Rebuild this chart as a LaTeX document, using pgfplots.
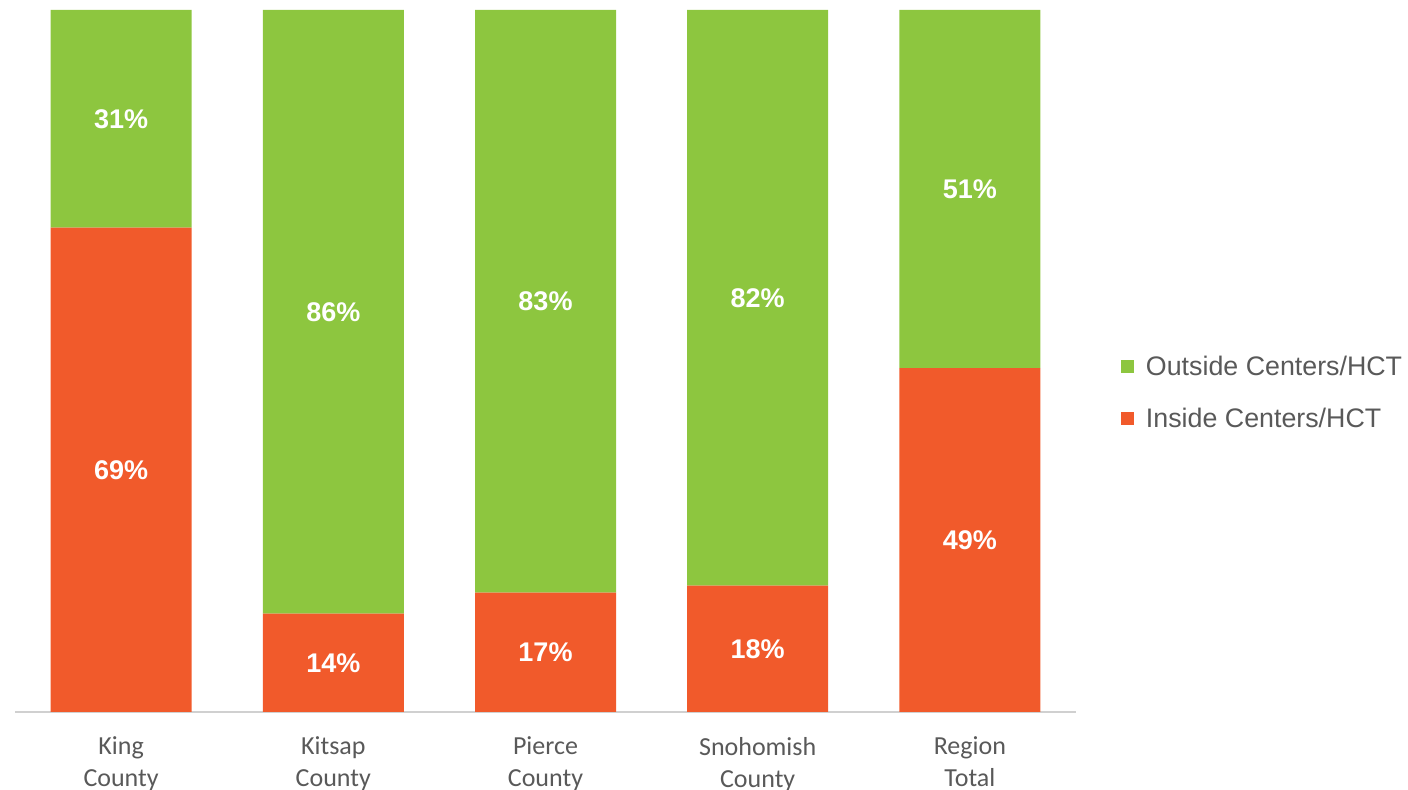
\documentclass[border=0pt]{standalone}
\usepackage{pgfplots}
\pgfplotsset{compat=1.18}
\usepackage{fontspec}
\setmainfont{Carlito}
\newfontfamily\arialfont{Liberation Sans}
\definecolor{outsideC}{HTML}{8DC63F}
\definecolor{insideC}{HTML}{F15A2B}
\definecolor{txtgray}{HTML}{595959}
\definecolor{axgray}{HTML}{D0D0D0}
\tikzset{dl/.style={font=\arialfont\bfseries\fontsize{13.5}{15}\selectfont, text=white}}

\begin{document}
\begin{tikzpicture}
\begin{axis}[
    at={(0,0)}, anchor=south west,
    scale only axis,
    width=530.5pt, height=351pt,
    ybar stacked, bar width=70.5pt,
    xmin=-0.5, xmax=4.5,
    ymin=0, ymax=100,
    xtick={0,1,2,3,4},
    xticklabels={King\\County, Kitsap\\County, Pierce\\County, Snohomish\\County, Region\\Total},
    xticklabel style={align=center, font=\fontsize{13}{16}\selectfont, text=txtgray, yshift=-9pt},
    major tick length=0pt,
    axis x line*=bottom,
    axis y line=none,
    x axis line style={axgray, line width=1pt, -},
    clip=false,
    legend style={at={(1.042,0.454)}, anchor=west, draw=none, fill=none,
        font=\arialfont\fontsize{13.4}{16}\selectfont, text=txtgray,
        row sep=11pt, inner sep=0pt,
        /tikz/every even column/.append style={column sep=4pt}},
    legend cell align=left,
    reverse legend,
    legend image code/.code={\fill[#1] (0pt,-3pt) rectangle (6.5pt,3.5pt);},
]
\addplot[fill=insideC, draw=none] coordinates {(0,69) (1,14) (2,17) (3,18) (4,49)};
\addlegendentry{\hspace{4pt}Inside Centers/HCT}
\addplot[fill=outsideC, draw=none] coordinates {(0,31) (1,86) (2,83) (3,82) (4,51)};
\addlegendentry{\hspace{4pt}Outside Centers/HCT}

% label anchors at the middle of each segment
\coordinate (a0) at (axis cs:0,34.5);
\coordinate (b0) at (axis cs:0,84.5);
\coordinate (a1) at (axis cs:1,7);
\coordinate (b1) at (axis cs:1,57);
\coordinate (a2) at (axis cs:2,8.5);
\coordinate (b2) at (axis cs:2,58.5);
\coordinate (a3) at (axis cs:3,9);
\coordinate (b3) at (axis cs:3,59);
\coordinate (a4) at (axis cs:4,24.5);
\coordinate (b4) at (axis cs:4,74.5);
\end{axis}
\node[dl] at (a0) {69\%};
\node[dl] at (b0) {31\%};
\node[dl] at (a1) {14\%};
\node[dl] at (b1) {86\%};
\node[dl] at (a2) {17\%};
\node[dl] at (b2) {83\%};
\node[dl] at (a3) {18\%};
\node[dl] at (b3) {82\%};
\node[dl] at (a4) {49\%};
\node[dl] at (b4) {51\%};
\pgfresetboundingbox
\path[use as bounding box] (-7.5pt,-39pt) rectangle (696.5pt,356pt);
\end{tikzpicture}
\end{document}
